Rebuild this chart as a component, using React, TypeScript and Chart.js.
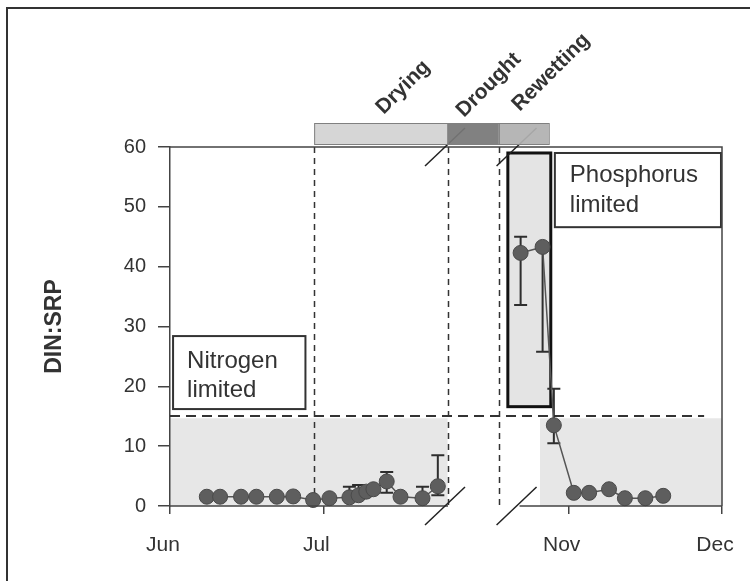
import React, { useEffect, useRef } from "react";
import { Chart, registerables } from "chart.js";

Chart.register(...registerables);

const FONT = "'Liberation Sans', Arial, Helvetica, sans-serif";

// Broken time axis in day units: Jun 1 = 0, Jul 1 = 30 (left panel); Nov 1 = 78, Dec 1 = 108 (right panel)
const xTickValues = [0, 30, 78, 108];
const xTickLabels = ["Jun", "Jul", "Nov", "Dec"];
const yTickStep = 10;
const yMax = 60;

// Drying / drought period samples (left panel)
const dryDays = [7.2, 9.8, 13.9, 16.9, 20.9, 24.1, 28.0, 31.2, 35.1, 36.9, 38.4, 39.8, 42.4, 45.1, 49.4, 52.4];
const dryRatio = [1.55, 1.55, 1.55, 1.55, 1.55, 1.6, 1.0, 1.3, 1.45, 1.8, 2.4, 2.8, 4.1, 1.55, 1.3, 3.3];
const dryErrHigh = [null, null, null, null, null, null, null, null, 3.2, 3.5, null, null, 5.7, null, 3.2, 8.5];
const dryErrLow = [null, null, null, null, null, null, null, null, null, null, null, null, 2.2, null, null, 1.8];

// Rewetting period samples (right panel)
const wetDays = [68.6, 72.9, 75.1, 79.0, 82.0, 85.9, 89.0, 93.0, 96.5];
const wetRatio = [42.3, 43.3, 13.5, 2.2, 2.2, 2.8, 1.3, 1.3, 1.7];
const wetErrHigh = [45.0, null, 19.6, null, null, null, null, null, null];
const wetErrLow = [33.6, 25.8, 10.5, null, null, null, null, null, null];

// Hydrological phases
const phaseNames = ["Drying", "Drought", "Rewetting"];
const phaseStart = [28.2, 54.3, 64.3];
const phaseEnd = [54.3, 64.3, 74.1];
const phaseColors = ["#d3d3d3", "#777777", "#b0b0b0"];

// Redfield-type threshold
const threshold = 15;

const annotations = {
  id: "annotations",
  beforeDraw(chart: any) {
    const { ctx, scales } = chart;
    const x = scales.x, y = scales.y;
    const X = (v: number) => x.getPixelForValue(v);
    const Y = (v: number) => y.getPixelForValue(v);
    ctx.save();
    ctx.fillStyle = "#ffffff";
    ctx.fillRect(0, 0, chart.width, chart.height);
    ctx.fillStyle = "#e7e7e7";
    ctx.fillRect(X(0), Y(threshold) + 2, X(phaseStart[1]) - X(0), Y(0) - Y(threshold) - 2);
    ctx.fillRect(X(72.4), Y(threshold) + 2, X(108) - X(72.4), Y(0) - Y(threshold) - 2);
    ctx.restore();
  },
  beforeDatasetsDraw(chart: any) {
    const { ctx, scales, chartArea } = chart;
    const x = scales.x, y = scales.y;
    const X = (v: number) => x.getPixelForValue(v);
    const Y = (v: number) => y.getPixelForValue(v);
    ctx.save();
    // vertical dashed phase boundaries
    ctx.strokeStyle = "#333";
    ctx.lineWidth = 1.5;
    ctx.setLineDash([6, 5]);
    phaseStart.forEach((s) => {
      ctx.beginPath();
      ctx.moveTo(Math.round(X(s)) + 0.5, chartArea.top);
      ctx.lineTo(Math.round(X(s)) + 0.5, chartArea.bottom);
      ctx.stroke();
    });
    // threshold dashed line
    ctx.lineWidth = 2;
    ctx.setLineDash([10, 6]);
    ctx.beginPath();
    ctx.moveTo(X(0), Math.round(Y(threshold)));
    ctx.lineTo(X(104.5), Math.round(Y(threshold)));
    ctx.stroke();
    ctx.setLineDash([]);

    // phosphorus-limited sample box
    const bx0 = X(66.1), bx1 = X(74.5), by0 = Y(59.0), by1 = Y(16.6);
    ctx.fillStyle = "#e4e4e4";
    ctx.fillRect(bx0, by0, bx1 - bx0, by1 - by0);
    ctx.strokeStyle = "#111";
    ctx.lineWidth = 3;
    ctx.strokeRect(bx0, by0, bx1 - bx0, by1 - by0);

    // label boxes
    const box = (v0: number, v1: number, w0: number, w1: number, lines: string[], tx: number, base: number[]) => {
      const l = X(v0), r = X(v1), t = Y(w1), b = Y(w0);
      ctx.fillStyle = "#fff";
      ctx.fillRect(l, t, r - l, b - t);
      ctx.strokeStyle = "#333";
      ctx.lineWidth = 2;
      ctx.strokeRect(l, t, r - l, b - t);
      ctx.fillStyle = "#333";
      ctx.font = `24px ${FONT}`;
      ctx.textAlign = "left";
      ctx.textBaseline = "alphabetic";
      lines.forEach((s, i) => ctx.fillText(s, l + tx, t + base[i]));
    };
    box(0.6, 26.5, 16.2, 28.4, ["Nitrogen", "limited"], 14, [32, 61]);
    box(75.3, 107.8, 46.6, 59.0, ["Phosphorus", "limited"], 15, [29, 59]);

    // error bars
    const errs = (days: number[], vals: number[], hi: (number | null)[], lo: (number | null)[]) => {
      ctx.strokeStyle = "#2e2e2e";
      ctx.lineWidth = 2;
      days.forEach((d, i) => {
        const h = hi[i], l = lo[i];
        if (h == null && l == null) return;
        const px = X(d);
        const top = Y(h ?? vals[i]);
        const bot = Y(l ?? vals[i]);
        ctx.beginPath();
        ctx.moveTo(px, top);
        ctx.lineTo(px, bot);
        if (h != null) { ctx.moveTo(px - 6.5, top); ctx.lineTo(px + 6.5, top); }
        if (l != null) { ctx.moveTo(px - 6.5, bot); ctx.lineTo(px + 6.5, bot); }
        ctx.stroke();
      });
    };
    errs(dryDays, dryRatio, dryErrHigh, dryErrLow);
    errs(wetDays, wetRatio, wetErrHigh, wetErrLow);
    ctx.restore();
  },
  afterDraw(chart: any) {
    const { ctx, scales, chartArea } = chart;
    const x = scales.x;
    const X = (v: number) => x.getPixelForValue(v);
    const { top, bottom, right, left } = chartArea;
    const breakL = 54.0, breakR = 68.0;
    ctx.save();
    ctx.strokeStyle = "#444";
    ctx.lineWidth = 1.5;
    // top and right borders, broken bottom axis
    ctx.beginPath();
    ctx.moveTo(left, top);
    ctx.lineTo(right, top);
    ctx.lineTo(right, bottom);
    ctx.moveTo(left, bottom);
    ctx.lineTo(X(breakL) + 2, bottom);
    ctx.moveTo(X(breakR) + 2, bottom);
    ctx.lineTo(right, bottom);
    ctx.stroke();
    // break marks
    ctx.strokeStyle = "#222";
    ctx.lineWidth = 1.5;
    [breakL, breakR].forEach((b) => {
      [top, bottom].forEach((yy) => {
        const cx = X(b) - 1;
        ctx.beginPath();
        ctx.moveTo(cx - 20, yy + 19);
        ctx.lineTo(cx + 20, yy - 19);
        ctx.stroke();
      });
    });
    // phase bar
    const barTop = top - 24, barH = 21;
    ctx.globalAlpha = 0.93;
    phaseNames.forEach((_, i) => {
      const a = X(phaseStart[i]), b = X(phaseEnd[i]);
      ctx.fillStyle = phaseColors[i];
      ctx.fillRect(a, barTop, b - a, barH);
    });
    ctx.globalAlpha = 1;
    ctx.strokeStyle = "#808080";
    ctx.lineWidth = 1;
    phaseNames.forEach((_, i) => {
      const a = X(phaseStart[i]), b = X(phaseEnd[i]);
      ctx.strokeRect(a + 0.5, barTop + 0.5, b - a, barH);
    });
    // rotated phase labels
    const offs = [[3, -8], [-9, -5], [-4, -11]];
    ctx.fillStyle = "#333";
    ctx.font = `bold 21px ${FONT}`;
    ctx.textAlign = "left";
    ctx.textBaseline = "alphabetic";
    phaseNames.forEach((n, i) => {
      const c = (X(phaseStart[i]) + X(phaseEnd[i])) / 2;
      ctx.save();
      ctx.translate(c + offs[i][0], barTop + offs[i][1]);
      ctx.rotate(-Math.PI / 4);
      ctx.fillText(n, 0, 0);
      ctx.restore();
    });
    // page frame
    ctx.strokeStyle = "#333";
    ctx.lineWidth = 2;
    ctx.beginPath();
    ctx.moveTo(7, chart.height);
    ctx.lineTo(7, 8);
    ctx.lineTo(chart.width, 8);
    ctx.stroke();
    ctx.restore();
  },
};

const pointStyle = {
  borderColor: "#555",
  borderWidth: 1.5,
  pointRadius: 7.5,
  pointHoverRadius: 7.5,
  pointBackgroundColor: "#5e5e5e",
  pointBorderColor: "#4a4a4a",
  pointBorderWidth: 1,
  showLine: true,
  tension: 0,
  clip: false as any,
};

export default function App() {
  const ref = useRef<HTMLCanvasElement | null>(null);
  useEffect(() => {
    document.body.style.margin = "0";
    const canvas = ref.current;
    if (!canvas) return;
    const chart = new Chart(canvas, {
      type: "line",
      data: {
        datasets: [
          { data: dryDays.map((d, i) => ({ x: d, y: dryRatio[i] })), ...pointStyle },
          { data: wetDays.map((d, i) => ({ x: d, y: wetRatio[i] })), ...pointStyle },
        ],
      },
      options: {
        animation: false,
        responsive: false,
        maintainAspectRatio: false,
        layout: { padding: { top: 147, right: 28, left: 0, bottom: 0 } },
        plugins: { legend: { display: false }, tooltip: { enabled: false } },
        scales: {
          x: {
            type: "linear",
            min: 0,
            max: 108,
            afterBuildTicks: (s: any) => {
              s.ticks = xTickValues.map((v) => ({ value: v }));
            },
            afterFit: (s: any) => {
              s.height = 75;
              s.paddingLeft = 0;
              s.paddingRight = 0;
            },
            ticks: {
              autoSkip: false,
              maxRotation: 0,
              padding: 19,
              labelOffset: -7,
              color: "#333",
              font: { family: FONT, size: 21 },
              callback: (v: any) => xTickLabels[xTickValues.indexOf(Number(v))] ?? "",
            },
            grid: { drawOnChartArea: false, drawTicks: true, tickLength: 8, color: "#444", lineWidth: 1.5 },
            border: { display: false },
          },
          y: {
            min: 0,
            max: yMax,
            afterFit: (s: any) => {
              s.width = 170;
            },
            ticks: { stepSize: yTickStep, padding: 12, color: "#333", font: { family: FONT, size: 20 } },
            grid: { drawOnChartArea: false, drawTicks: true, tickLength: 12, color: "#444", lineWidth: 1.5 },
            border: { display: true, color: "#444", width: 1.5 },
            title: {
              display: true,
              text: "DIN:SRP",
              color: "#333",
              font: { family: FONT, size: 23, weight: "bold" },
              padding: { top: 41, bottom: 0 },
            },
          },
        },
      },
      plugins: [annotations],
    });
    return () => chart.destroy();
  }, []);
  return <canvas ref={ref} width={750} height={581} style={{ display: "block", width: 750, height: 581 }} />;
}
